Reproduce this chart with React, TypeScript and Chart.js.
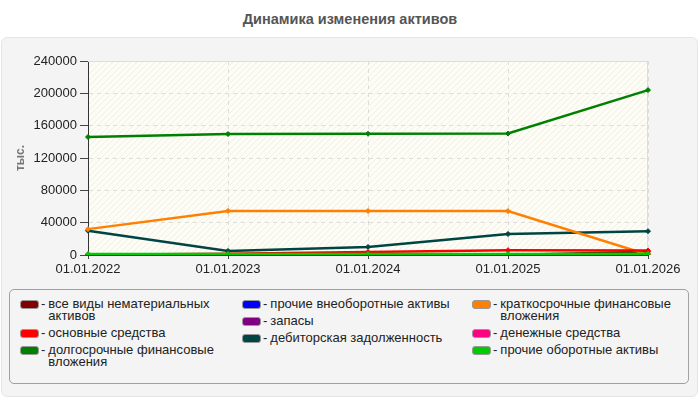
import React, { useEffect, useRef } from 'react';
import Chart, { ChartConfiguration } from 'chart.js/auto';

const FONT = '"Liberation Sans", Arial, sans-serif';

const periods = ['01.01.2022', '01.01.2023', '01.01.2024', '01.01.2025', '01.01.2026'];

// значения, тыс.
const intangibleAssets = [0, 0, 0, 0, 4000];
const fixedAssets = [300, 1600, 3700, 6000, 5500];
const longTermInvestments = [146000, 149700, 150000, 150300, 204000];
const otherNonCurrentAssets = [0, 0, 0, 0, 0];
const inventories = [0, 0, 0, 0, 0];
const receivables = [30000, 5000, 10000, 26000, 29500];
const shortTermInvestments = [32000, 54500, 54500, 54300, 300];
const cashAssets = [0, 0, 0, 0, 0];
const otherCurrentAssets = [1200, 1200, 1200, 1300, 1600];

const yMax = 240000;
const yStep = 40000;

const series = [
    { label: 'все виды нематериальных активов', color: '#800000', data: intangibleAssets, order: 4 },
    { label: 'основные средства', color: '#ff0000', data: fixedAssets, order: 1 },
    { label: 'долгосрочные финансовые вложения', color: '#008000', data: longTermInvestments, order: 2 },
    { label: 'прочие внеоборотные активы', color: '#0000ff', data: otherNonCurrentAssets, order: 3 },
    { label: 'запасы', color: '#800080', data: inventories, order: 5 },
    { label: 'дебиторская задолженность', color: '#004444', data: receivables, order: 6 },
    { label: 'краткосрочные финансовые вложения', color: '#ff8000', data: shortTermInvestments, order: 1 },
    { label: 'денежные средства', color: '#ff0080', data: cashAssets, order: 7 },
    { label: 'прочие оборотные активы', color: '#00cc00', data: otherCurrentAssets, order: 0 },
];

const legendColumns = [
    { left: 20, width: 175, items: [0, 1, 2] },
    { left: 242, width: 200, items: [3, 4, 5] },
    { left: 472, width: 185, items: [6, 7, 8] },
];

const hatchPlugin = {
    id: 'hatch',
    beforeDraw(chart: any) {
        const { ctx, chartArea } = chart;
        if (!chartArea) return;
        const tile = document.createElement('canvas');
        tile.width = 6;
        tile.height = 6;
        const t = tile.getContext('2d')!;
        t.fillStyle = '#fdfdf6';
        t.fillRect(0, 0, 6, 6);
        t.strokeStyle = 'rgba(0,0,0,0.055)';
        t.lineWidth = 1;
        t.beginPath();
        t.moveTo(0, 6);
        t.lineTo(6, 0);
        t.moveTo(-3, 3);
        t.lineTo(3, -3);
        t.moveTo(3, 9);
        t.lineTo(9, 3);
        t.stroke();
        ctx.save();
        ctx.fillStyle = ctx.createPattern(tile, 'repeat');
        ctx.fillRect(chartArea.left, chartArea.top, chartArea.right - chartArea.left, chartArea.bottom - chartArea.top);
        ctx.restore();
    },
    beforeDatasetsDraw(chart: any) {
        const { ctx, chartArea } = chart;
        ctx.save();
        ctx.strokeStyle = '#dddddd';
        ctx.lineWidth = 1;
        ctx.beginPath();
        ctx.moveTo(chartArea.left, chartArea.top + 0.5);
        ctx.lineTo(chartArea.right - 0.5, chartArea.top + 0.5);
        ctx.lineTo(chartArea.right - 0.5, chartArea.bottom);
        ctx.stroke();
        ctx.restore();
    },
};

const AssetsChart: React.FC = () => {
    const chartRef = useRef<HTMLCanvasElement | null>(null);

    // @ts-ignore
    useEffect(() => {
        const chartConfig: ChartConfiguration = {
            type: 'line',
            data: {
                labels: periods,
                datasets: series.map((s) => ({
                    label: s.label,
                    data: s.data,
                    borderColor: s.color,
                    backgroundColor: s.color,
                    borderWidth: 2.5,
                    pointStyle: 'rectRot',
                    pointRadius: 2.5,
                    pointBorderWidth: 1,
                    tension: 0,
                    fill: false,
                    order: s.order,
                })),
            },
            options: {
                animation: false,
                responsive: false,
                devicePixelRatio: 1,
                layout: { padding: { left: 0, top: 24, right: 52, bottom: 0 } },
                plugins: {
                    legend: { display: false },
                    tooltip: { enabled: false },
                },
                scales: {
                    x: {
                        type: 'category',
                        offset: false,
                        grid: { color: '#dcdcdc', tickColor: '#444', tickLength: 4 },
                        border: { color: '#333', dash: [4, 4] },
                        ticks: { color: '#222', font: { family: FONT, size: 13 }, padding: 3, maxRotation: 0, autoSkip: false },
                        afterFit: (scale: any) => {
                            scale.height = 32;
                        },
                    },
                    y: {
                        min: 0,
                        max: yMax,
                        grid: { color: '#dcdcdc', tickColor: '#444', tickLength: 8 },
                        border: { color: '#333', dash: [4, 4] },
                        ticks: {
                            stepSize: yStep,
                            color: '#222',
                            font: { family: FONT, size: 13 },
                            padding: 3,
                            callback: (v: any) => String(v),
                        },
                        title: {
                            display: true,
                            text: 'тыс.',
                            color: '#777',
                            font: { family: FONT, size: 12, weight: 'bold' },
                            padding: { top: 13, bottom: 0 },
                        },
                        afterFit: (scale: any) => {
                            scale.width = 88;
                        },
                    },
                },
            },
            plugins: [hatchPlugin],
        };

        if (chartRef.current) {
            const ctx = chartRef.current.getContext('2d');
            if (ctx) {
                const chartInstance = new Chart(ctx, chartConfig);
                return () => {
                    chartInstance.destroy();
                };
            }
        }
    }, []);

    return <canvas ref={chartRef} width={700} height={250} style={{ position: 'absolute', left: 0, top: 37, width: 700, height: 250 }} />;
};

const App: React.FC = () => {
    return (
        <div style={{ position: 'fixed', left: 0, top: 0, width: 700, height: 400, background: '#fff', fontFamily: FONT, overflow: 'hidden' }}>
            <div style={{ position: 'absolute', left: 0, top: 11, width: 700, textAlign: 'center', fontSize: 14.5, fontWeight: 'bold', color: '#555' }}>
                Динамика изменения активов
            </div>
            <div
                style={{
                    position: 'absolute',
                    left: 1,
                    top: 37,
                    width: 695,
                    height: 358,
                    background: '#f4f4f4',
                    border: '1px solid #e6e6e6',
                    borderRadius: 6,
                }}
            />
            <AssetsChart />
            <div
                style={{
                    position: 'absolute',
                    left: 9,
                    top: 289,
                    width: 678,
                    height: 93,
                    border: '1px solid #a0a0a0',
                    borderRadius: 5,
                    background: '#f4f4f4',
                }}
            />
            {legendColumns.map((col, ci) => (
                <div
                    key={ci}
                    style={{ position: 'absolute', left: col.left, top: 298, display: 'flex', flexDirection: 'column', gap: 5 }}
                >
                    {col.items.map((i) => (
                        <div key={i} style={{ display: 'flex', alignItems: 'flex-start', fontSize: 13, lineHeight: '12px', color: '#222' }}>
                            <span
                                style={{
                                    display: 'inline-block',
                                    width: 17,
                                    height: 7,
                                    marginTop: 2,
                                    background: series[i].color,
                                    border: '1px solid #999',
                                    borderRadius: 3,
                                    flex: 'none',
                                }}
                            />
                            <span style={{ margin: '0 3px 0 2px' }}>-</span>
                            <span style={{ width: col.width }}>{series[i].label}</span>
                        </div>
                    ))}
                </div>
            ))}
        </div>
    );
};

export default App;
